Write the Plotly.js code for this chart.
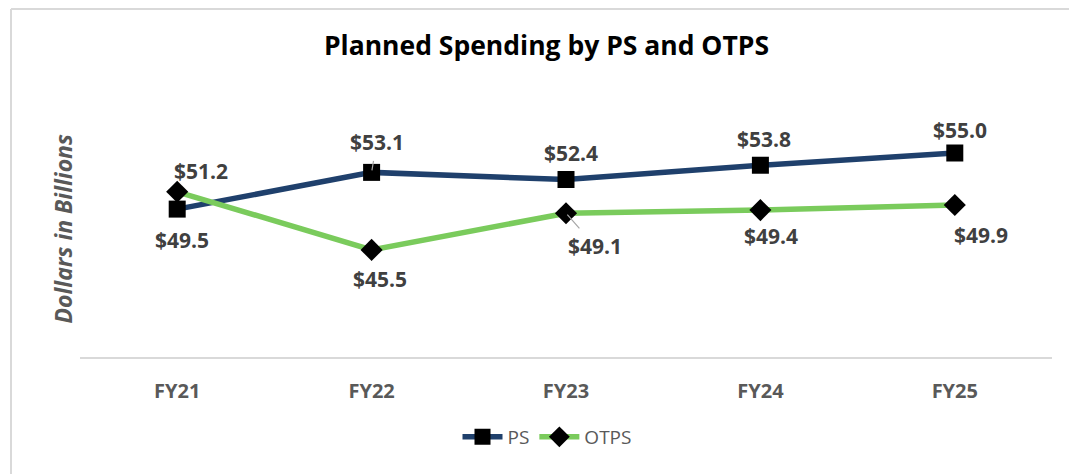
<!DOCTYPE html>
<html>
<head>
<meta charset="utf-8">
<script src="https://cdn.plot.ly/plotly-3.0.1.min.js"></script>
<style>
  html, body { margin: 0; padding: 0; background: #ffffff; }
  #chart { width: 1069px; height: 474px; }
</style>
</head>
<body>
<div id="chart"></div>
<script>
// ---- data ----
const categories = ["FY21", "FY22", "FY23", "FY24", "FY25"];
const psValues = [49.5, 53.1, 52.4, 53.8, 55.0];
const otpsValues = [51.2, 45.5, 49.1, 49.4, 49.9];
const seriesNames = ["PS", "OTPS"];

// label offsets in pixels [dx, dy(down positive)] -- layout only
const psLabelOffsets = [[5, 31], [5, -30], [5, -27], [4, -26], [5, -23]];
const otpsLabelOffsets = [[24, -21], [8, 29], [29, 33], [11, 26], [26, 30]];
const psLeader = [false, true, false, false, false];
const otpsLeader = [false, false, true, false, false];

const W = 1069, H = 474;
const M = { l: 80, r: 17, t: 102, b: 117, autoexpand: false };
const PW = W - M.l - M.r, PH = H - M.t - M.b;
const px2x = p => (p - M.l) / PW;
const px2y = p => (H - M.b - p) / PH;

const FONT = "'Open Sans', sans-serif";
const labelFont = { family: FONT, size: 21, color: "#404040", weight: 700 };

function makeLabels(values, offsets, leaders) {
  return values.map((v, i) => {
    const txt = "<b>$" + v.toFixed(1) + "</b>";
    const [dx, dy] = offsets[i];
    if (leaders[i]) {
      return {
        x: categories[i], y: v, xref: "x", yref: "y",
        text: txt, font: labelFont,
        showarrow: true, arrowhead: 0, arrowwidth: 1.2, arrowcolor: "#a6a6a6",
        ax: dx, ay: dy, standoff: 2, startstandoff: 3
      };
    }
    return {
      x: categories[i], y: v, xref: "x", yref: "y",
      text: txt, font: labelFont, showarrow: false,
      xshift: dx, yshift: -dy, xanchor: "center", yanchor: "middle"
    };
  });
}

const traces = [
  {
    type: "scatter", mode: "lines+markers", name: seriesNames[0],
    x: categories, y: psValues,
    line: { color: "#1f406c", width: 5.5 },
    marker: { symbol: "square", size: 17, color: "#000000" },
    hoverinfo: "skip"
  },
  {
    type: "scatter", mode: "lines+markers", name: seriesNames[1],
    x: categories, y: otpsValues,
    line: { color: "#7acb5c", width: 5.5 },
    marker: { symbol: "diamond", size: 17, color: "#000000" },
    hoverinfo: "skip"
  }
];

const annotations = []
  .concat(makeLabels(psValues, psLabelOffsets, psLeader))
  .concat(makeLabels(otpsValues, otpsLabelOffsets, otpsLeader));

annotations.push({
  xref: "paper", yref: "paper", x: px2x(62), y: 0.5,
  text: "<b><i>Dollars in Billions</i></b>", textangle: -90,
  showarrow: false, xanchor: "center", yanchor: "middle",
  font: { family: FONT, size: 23, color: "#595959" }
});

const layout = {
  width: W, height: H,
  margin: M,
  paper_bgcolor: "#ffffff", plot_bgcolor: "#ffffff",
  title: {
    text: "<b>Planned Spending by PS and OTPS</b>",
    font: { family: FONT, size: 26.5, color: "#000000" },
    xref: "container", yref: "container",
    x: 546.5 / W, xanchor: "center",
    y: 1 - 46 / H, yanchor: "middle"
  },
  showlegend: true,
  legend: {
    orientation: "h", xref: "paper", x: px2x(547), xanchor: "center",
    yref: "paper", y: px2y(437), yanchor: "middle",
    font: { family: FONT, size: 19, color: "#595959" },
    itemwidth: 40
  },
  xaxis: {
    type: "category", range: [-0.5, 4.5],
    showgrid: false, zeroline: false,
    showline: true, linecolor: "#d9d9d9", linewidth: 2,
    ticks: "", ticklabelstandoff: 15,
    tickfont: { family: FONT, size: 20, color: "#595959", weight: 700 },
    fixedrange: true
  },
  yaxis: {
    range: [35, 60], showgrid: false, zeroline: false,
    showline: false, showticklabels: false, ticks: "",
    fixedrange: true
  },
  annotations: annotations,
  shapes: [
    { type: "line", xref: "paper", yref: "paper",
      x0: px2x(11), x1: px2x(W + 5), y0: px2y(9), y1: px2y(9),
      line: { color: "#d9d9d9", width: 2 } },
    { type: "line", xref: "paper", yref: "paper",
      x0: px2x(11), x1: px2x(11), y0: px2y(9), y1: px2y(H + 5),
      line: { color: "#d9d9d9", width: 2 } }
  ]
};

Plotly.newPlot("chart", traces, layout, { displayModeBar: false, staticPlot: true });
</script>
</body>
</html>
